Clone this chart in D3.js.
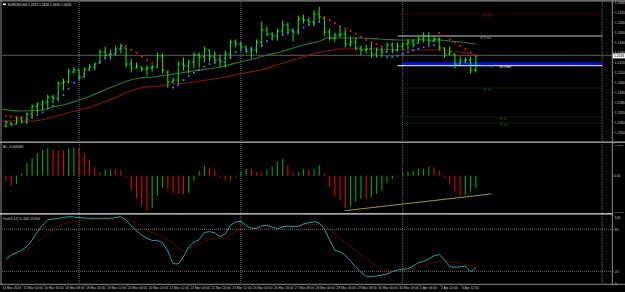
<!DOCTYPE html>
<html>
<head>
<meta charset="utf-8">
<script src="https://cdn.jsdelivr.net/npm/d3@7"></script>
<style>
html, body { margin: 0; padding: 0; background: #000; }
svg { display: block; font-family: "Liberation Sans", Arial, sans-serif; }
</style>
</head>
<body>
<svg id="chart" width="625" height="292"></svg>
<script>
// EURUSD H4 bars, 14 Mar - 3 Apr 2018
var opens = [1.2356,1.2359,1.2358,1.2364,1.2360,1.2368,1.2376,1.2378,1.2380,1.2385,
  1.2384,1.2399,1.2400,1.2410,1.2412,1.2405,1.2413,1.2415,1.2419,1.2430,
  1.2427,1.2428,1.2433,1.2434,1.2418,1.2414,1.2415,1.2413,1.2414,1.2415,
  1.2426,1.2410,1.2400,1.2402,1.2418,1.2416,1.2420,1.2427,1.2425,1.2432,
  1.2425,1.2422,1.2420,1.2428,1.2440,1.2438,1.2435,1.2431,1.2432,1.2440,
  1.2452,1.2448,1.2446,1.2451,1.2457,1.2452,1.2450,1.2463,1.2462,1.2460,
  1.2468,1.2464,1.2450,1.2444,1.2447,1.2448,1.2438,1.2440,1.2434,1.2432,
  1.2433,1.2428,1.2432,1.2430,1.2437,1.2432,1.2436,1.2438,1.2440,1.2439,
  1.2443,1.2446,1.2441,1.2443,1.2434,1.2428,1.2428,1.2418,1.2421,1.2422,1.2412];
var highs = [1.2361,1.2359,1.2365,1.2365,1.2369,1.2377,1.2379,1.2381,1.2387,1.2387,
  1.2400,1.2403,1.2413,1.2414,1.2412,1.2414,1.2417,1.2419,1.2432,1.2435,
  1.2432,1.2435,1.2438,1.2434,1.2423,1.2419,1.2415,1.2416,1.2417,1.2429,
  1.2428,1.2410,1.2404,1.2420,1.2424,1.2422,1.2429,1.2429,1.2435,1.2432,
  1.2430,1.2427,1.2431,1.2442,1.2442,1.2440,1.2436,1.2435,1.2442,1.2460,
  1.2455,1.2449,1.2453,1.2461,1.2459,1.2453,1.2466,1.2467,1.2464,1.2471,
  1.2475,1.2464,1.2453,1.2449,1.2456,1.2452,1.2445,1.2444,1.2436,1.2437,
  1.2439,1.2434,1.2434,1.2439,1.2439,1.2439,1.2439,1.2442,1.2442,1.2445,
  1.2449,1.2449,1.2445,1.2444,1.2434,1.2435,1.2428,1.2425,1.2424,1.2425,1.2426];
var lows = [1.2355,1.2356,1.2358,1.2359,1.2358,1.2364,1.2369,1.2372,1.2374,1.2379,
  1.2382,1.2392,1.2399,1.2409,1.2402,1.2405,1.2412,1.2412,1.2419,1.2424,
  1.2423,1.2427,1.2429,1.2415,1.2410,1.2414,1.2411,1.2407,1.2411,1.2415,
  1.2409,1.2395,1.2399,1.2399,1.2412,1.2409,1.2414,1.2415,1.2420,1.2421,
  1.2419,1.2415,1.2415,1.2423,1.2435,1.2433,1.2429,1.2424,1.2429,1.2437,
  1.2446,1.2442,1.2442,1.2448,1.2448,1.2441,1.2448,1.2459,1.2457,1.2456,
  1.2461,1.2447,1.2442,1.2441,1.2445,1.2435,1.2436,1.2432,1.2427,1.2429,
  1.2425,1.2425,1.2425,1.2430,1.2429,1.2431,1.2432,1.2433,1.2435,1.2439,
  1.2440,1.2437,1.2440,1.2432,1.2425,1.2427,1.2414,1.2418,1.2419,1.2409,1.2410];
var closes = [1.2360,1.2358,1.2364,1.2360,1.2368,1.2376,1.2378,1.2380,1.2385,1.2384,
  1.2399,1.2400,1.2410,1.2412,1.2405,1.2413,1.2415,1.2418,1.2430,1.2427,
  1.2428,1.2433,1.2436,1.2418,1.2414,1.2416,1.2413,1.2414,1.2415,1.2426,
  1.2412,1.2400,1.2402,1.2418,1.2416,1.2420,1.2427,1.2425,1.2433,1.2425,
  1.2422,1.2420,1.2428,1.2440,1.2438,1.2435,1.2431,1.2432,1.2440,1.2452,
  1.2448,1.2446,1.2451,1.2457,1.2452,1.2450,1.2463,1.2462,1.2460,1.2468,
  1.2465,1.2450,1.2444,1.2447,1.2448,1.2438,1.2440,1.2434,1.2432,1.2433,
  1.2428,1.2432,1.2430,1.2437,1.2432,1.2436,1.2438,1.2440,1.2437,1.2443,
  1.2446,1.2441,1.2443,1.2434,1.2428,1.2430,1.2418,1.2421,1.2422,1.2412,1.2426];

// moving averages, sampled along the lines: bar index / price
var maFastBars = [-0.8,2.7,7.1,9,11.7,14,16.7,19.3,21.3,23.2,25.7,28.2,30.8,33.3,35.8,37.2,41,44.8,47.3,50,52.5,55,57.7,60.2,61.5,64,67.8,71.6,75.5,83.1,85,87,90];
var maFastVals = [1.2373,1.2371,1.2372,1.2375,1.2378,1.2382,1.2387,1.2393,1.2397,1.2401,1.2404,1.2405,1.2407,1.2409,1.2411,1.2412,1.2415,1.2420,1.2423,1.2427,1.2430,1.2434,1.2438,1.2441,1.2444,1.2444,1.2444,1.2443,1.2442,1.2442,1.2441,1.2440,1.2438];
var maSlowBars = [-0.8,5.2,8.4,11.7,14,16.7,19.3,21.3,23.2,25.7,29.5,32,34.7,37.2,41,44.8,48.7,52.5,56.3,58.8,61.5,64,67.8,71.6,75.5,83.1,87,90];
var maSlowVals = [1.2361,1.2361,1.2364,1.2369,1.2372,1.2376,1.2381,1.2385,1.2390,1.2394,1.2396,1.2398,1.2399,1.2401,1.2404,1.2408,1.2412,1.2418,1.2424,1.2428,1.2431,1.2433,1.2433,1.2433,1.2432,1.2432,1.2430,1.2427];

// parabolic SAR
var sar = [1.2366,1.23655,1.23655,1.2365,1.2363,1.23647,1.2367,1.23697,1.23737,1.23763,
  1.2382,1.2387,1.23933,1.23993,1.24037,1.2408,1.2412,1.24153,1.24203,1.24237,
  1.2427,1.24303,1.24337,1.2436,1.2432,1.24293,1.24253,1.2422,1.24193,1.2418,
  1.24153,1.2411,1.23945,1.2397,1.2402,1.2406,1.24093,1.2412,1.24153,1.2418,
  1.24193,1.2422,1.24235,1.2425,1.2430,1.24317,1.24327,1.24335,1.24343,1.2436,
  1.2441,1.24435,1.24455,1.2447,1.2449,1.24505,1.2452,1.24545,1.2457,1.24585,
  1.2460,1.2465,1.2462,1.2459,1.2456,1.24535,1.2451,1.2448,1.2445,1.2442,
  1.2440,1.2438,1.24355,1.24247,1.2425,1.2426,1.2428,1.24297,1.24317,1.24333,
  1.24347,1.24357,1.24367,1.2449,1.2446,1.24427,1.24397,1.2436,1.24327,1.24297,1.24265];
var sarAboveRanges = [[0, 3], [23, 31], [61, 72], [83, 90]];

// pivot levels
var pivotNames = ["W R1", "W Pivot", "M Pivot", "D Pivot", "W S1", "M S1", "W S2"];
var pivotValues = [1.2468, 1.2446, 1.2418, 1.24163, 1.2394, 1.2365, 1.2359];
var pivotFrom = [75.5, 75, 76, 75, 75.5, 75.5, 75.5];
var pivotLabelBar = [91.4, 90.8, 94.6, 91.4, 91.4, 94.6, 94.6];
var lastPrice = 1.2426;

// Accelerator oscillator
var ac = [-0.00020,-0.00040,-0.00033,0.00010,0.00050,0.00070,0.00090,0.00103,0.00110,0.00106,
  0.00103,0.00100,0.00110,0.00114,0.00112,0.00090,0.00063,0.00034,0.00016,0.00023,
  0.00026,0.00025,0.00022,-0.00006,-0.00057,-0.00090,-0.00121,-0.00140,-0.00129,-0.00081,
  -0.00050,-0.00054,-0.00070,-0.00073,-0.00074,-0.00068,-0.00020,0.00019,0.00040,0.00033,
  0.00020,-0.00006,-0.00017,-0.00021,-0.00004,0.00016,0.00027,0.00026,0.00014,0.00012,
  0.00023,0.00036,0.00056,0.00067,0.00043,0.00010,0.00014,0.00027,0.00023,0.00027,
  0.00043,0.00010,-0.00044,-0.00081,-0.00097,-0.00128,-0.00124,-0.00104,-0.00093,-0.00095,
  -0.00086,-0.00073,-0.00060,-0.00028,-0.00013,-0.00004,0.00011,0.00016,0.00020,0.00027,
  0.00028,0.00036,0.00034,0.00020,-0.00008,-0.00034,-0.00064,-0.00081,-0.00077,-0.00064,-0.00048];
var acTrendBars = [64.9, 93.0];
var acTrendVals = [-0.00140, -0.00073];

// Stochastic (5,3,3)
var stochMain = [37.1,43.3,46.6,50.4,55.4,64.7,76.1,86.1,93.6,94.7,
  95.4,96.9,98,97.6,96.6,96.1,95.7,95.7,95.7,95.7,
  95.7,96.9,98,93.3,84.7,77.6,71.9,67.1,64,64.3,
  60.4,49,31.1,30.4,40.9,54.7,61.1,65.4,75.4,76.6,
  75.1,69.7,73.3,86.1,90.4,91.4,85.4,81.4,81.4,85.1,
  85.7,83.3,80.4,84,84.3,84,84,87.6,89.3,90.9,
  89,80.4,64.7,50,48,43.3,34.7,26.1,19,12.6,
  12.3,13.3,14.7,16.1,19.7,21.9,22.9,23.6,27.6,32.6,
  34.3,37.6,42.3,44,36.1,26.6,25.7,26.4,27.6,19,25.4];
var stochSignal = [41.6,42.9,44.3,47.6,50.4,56.1,62.6,67.6,74.7,81.1,
  84.7,87.6,89,90.7,92.3,93.3,94,94.3,94.3,94.3,
  94.3,94.3,94.3,93.3,91.9,88.3,84,79,75.4,71.9,
  69,65.4,60,53.3,49.4,52.6,56.1,59.7,63.3,65.4,
  65.9,66.6,67.1,71.9,76.9,79.4,81.9,82.6,82.9,83.2,
  83.2,83.3,83.5,83.6,83.6,83.6,84,85.4,86.4,87.3,
  86.9,84.7,79,73.3,67.6,61.1,54.7,49,43.3,37.6,
  31.9,27.6,24,21.9,20.4,19.7,19.7,21.4,24,26.1,
  28,30.4,32.9,34.7,34.7,33.7,32.6,31.1,29.7,28.3,24.9];
var stochLevels = [80, 20];

// time axis
var timeBars = [0,4,8,12,16,20,24,28,32,36,40,44,48,52,56,60,64,68,72,76,80,84,88];
var timeLabels = ["14 Mar 2018","15 Mar 00:00","15 Mar 16:00","16 Mar 08:00","18 Mar 20:00",
  "19 Mar 12:00","20 Mar 04:00","20 Mar 20:00","21 Mar 12:00","22 Mar 04:00","22 Mar 20:00",
  "23 Mar 12:00","26 Mar 00:00","26 Mar 16:00","27 Mar 08:00","28 Mar 00:00","28 Mar 16:00",
  "29 Mar 08:00","30 Mar 00:00","30 Mar 16:00","2 Apr 04:00","2 Apr 20:00","3 Apr 12:00"];
var separatorBars = [14, 45, 76, 114.2];

var svg = d3.select("#chart");
var bars = d3.range(closes.length);
var fs = 3.3;

var x = d3.scaleLinear().domain([-0.766, 116.09]).range([2, 612]);
var yMain = d3.scaleLinear().domain([1.2341, 1.2480]).range([141, 2]);
var yAc = d3.scaleLinear().domain([-0.001492, 0.001308]).range([213, 143]);
var ySto = d3.scaleLinear().domain([0, 100]).range([285.3, 215.3]);

svg.append("rect").attr("width", 625).attr("height", 292).attr("fill", "#000");

// clips for the three windows
var defs = svg.append("defs");
[["clipMain", 2, 141], ["clipAc", 143, 213], ["clipSto", 214.5, 284]].forEach(function (c) {
    defs.append("clipPath").attr("id", c[0]).append("rect")
        .attr("x", 2).attr("y", c[1]).attr("width", 610).attr("height", c[2] - c[1]);
});

// period separators
svg.append("g").selectAll("line").data(separatorBars).enter().append("line")
    .attr("x1", d => x(d)).attr("x2", d => x(d))
    .attr("y1", 2).attr("y2", 284)
    .attr("stroke", "#8a8a8a").attr("stroke-width", 0.8).attr("stroke-dasharray", "1,1");

// ---------- main window ----------
var main = svg.append("g").attr("clip-path", "url(#clipMain)");

// bid line
main.append("line").attr("x1", 2).attr("x2", 612)
    .attr("y1", yMain(lastPrice) - 0.7).attr("y2", yMain(lastPrice) - 0.7)
    .attr("stroke", "#707070").attr("stroke-width", 0.8);

var pivotStyle = {
    "W R1": { c: "#8b0000", w: 0.8, dash: "1,1", lc: "#8b1a1a", dy: 3 },
    "W Pivot": { c: "#c8c8c8", w: 1, dash: null, lc: "#9a9a9a", dy: 2.5 },
    "M Pivot": { c: "#0010ff", w: 3.6, dash: null, lc: "#e8e8e8", dy: 4 },
    "D Pivot": { c: "#ffffff", w: 1, dash: null, lc: "#2f6a2f", dy: 2.5 },
    "W S1": { c: "#0f5a0f", w: 0.8, dash: "1,1", lc: "#1f6b1f", dy: 2.5 },
    "M S1": { c: "#0f5a0f", w: 0.8, dash: "1,1", lc: "#1f6b1f", dy: 2.5 },
    "W S2": { c: "#0f5a0f", w: 0.8, dash: "1,1", lc: "#1f6b1f", dy: 2.5 }
};
pivotNames.forEach(function (name, k) {
    var st = pivotStyle[name];
    main.append("line")
        .attr("x1", x(pivotFrom[k])).attr("x2", x(separatorBars[3]))
        .attr("y1", yMain(pivotValues[k])).attr("y2", yMain(pivotValues[k]))
        .attr("stroke", st.c).attr("stroke-width", st.w)
        .attr("stroke-dasharray", st.dash);
    main.append("text")
        .attr("x", x(pivotLabelBar[k])).attr("y", yMain(pivotValues[k]) + st.dy)
        .attr("fill", st.lc).attr("font-size", fs).text(name);
});

// moving averages
var maLine = d3.line().x(d => x(d[0])).y(d => yMain(d[1])).curve(d3.curveMonotoneX);
main.append("path").datum(d3.zip(maSlowBars, maSlowVals))
    .attr("d", maLine).attr("fill", "none").attr("stroke", "#8b1010").attr("stroke-width", 1.2);
main.append("path").datum(d3.zip(maFastBars, maFastVals))
    .attr("d", maLine).attr("fill", "none").attr("stroke", "#2a7a2a").attr("stroke-width", 1.2);

// OHLC bars
var barG = main.append("g").attr("stroke", "#14ee14").attr("stroke-width", 1);
bars.forEach(function (i) {
    var cx = x(i);
    barG.append("line").attr("x1", cx).attr("x2", cx)
        .attr("y1", yMain(highs[i]) - 0.5).attr("y2", yMain(lows[i]) + 0.5);
    barG.append("line").attr("x1", cx - 1.8).attr("x2", cx)
        .attr("y1", yMain(opens[i])).attr("y2", yMain(opens[i]));
    barG.append("line").attr("x1", cx).attr("x2", cx + 1.8)
        .attr("y1", yMain(closes[i])).attr("y2", yMain(closes[i]));
});

// SAR dots
function sarAbove(i) {
    return sarAboveRanges.some(r => i >= r[0] && i <= r[1]);
}
main.append("g").selectAll("rect").data(bars).enter().append("rect")
    .attr("x", i => x(i) - 0.9).attr("y", i => yMain(sar[i]) - 0.9)
    .attr("width", 1.8).attr("height", 1.8)
    .attr("fill", i => sarAbove(i) ? "#ff1010" : "#4d72ff");

// title
svg.append("rect").attr("x", 3).attr("y", 3.5).attr("width", 3).attr("height", 1.6).attr("fill", "#fff");
svg.append("text").attr("x", 8).attr("y", 5.6).attr("font-size", fs).attr("fill", "#e0e0e0")
    .text("EURUSD,H4  " + [opens, highs, lows, closes].map(a => a[a.length - 1].toFixed(4)).join(" "));

// ---------- AC window ----------
var acG = svg.append("g").attr("clip-path", "url(#clipAc)");
acG.append("g").selectAll("line").data(bars).enter().append("line")
    .attr("x1", i => x(i)).attr("x2", i => x(i))
    .attr("y1", yAc(0)).attr("y2", i => yAc(ac[i]))
    .attr("stroke-width", 1.1)
    .attr("stroke", i => (i > 0 && ac[i] < ac[i - 1]) || (i === 0 && ac[0] < 0) ? "#e80000" : "#00a800");
acG.append("line")
    .attr("x1", x(acTrendBars[0])).attr("x2", x(acTrendBars[1]))
    .attr("y1", yAc(acTrendVals[0])).attr("y2", yAc(acTrendVals[1]))
    .attr("stroke", "#9c9c22").attr("stroke-width", 1);
svg.append("text").attr("x", 3).attr("y", 148).attr("font-size", fs).attr("fill", "#d0d0d0")
    .text("AC " + ac[ac.length - 1].toFixed(6));

// ---------- Stochastic window ----------
var stG = svg.append("g").attr("clip-path", "url(#clipSto)");
stG.append("g").selectAll("line").data(stochLevels).enter().append("line")
    .attr("x1", 2).attr("x2", 612).attr("y1", d => ySto(d)).attr("y2", d => ySto(d))
    .attr("stroke", "#8a8a8a").attr("stroke-width", 0.8).attr("stroke-dasharray", "1,1");
var stLine = d3.line().x(i => x(i));
stG.append("path").datum(bars)
    .attr("d", stLine.y(i => ySto(stochSignal[i])))
    .attr("fill", "none").attr("stroke", "#b01010").attr("stroke-width", 0.9)
    .attr("stroke-dasharray", "1,1");
stG.append("path").datum(bars)
    .attr("d", stLine.y(i => ySto(stochMain[i])))
    .attr("fill", "none").attr("stroke", "#22a39c").attr("stroke-width", 1);
svg.append("text").attr("x", 3).attr("y", 219.5).attr("font-size", fs * 0.85).attr("fill", "#d0d0d0")
    .text("Stoch(5,3,3) " + stochMain[stochMain.length - 1].toFixed(4) + " " + stochSignal[stochSignal.length - 1].toFixed(4));

// ---------- frame ----------
var frame = svg.append("g").attr("fill", "none");
frame.append("line").attr("x1", 0).attr("x2", 625).attr("y1", 0.8).attr("y2", 0.8).attr("stroke", "#8c8c8c").attr("stroke-width", 1.2);
frame.append("line").attr("x1", 1).attr("x2", 1).attr("y1", 0).attr("y2", 284).attr("stroke", "#8c8c8c").attr("stroke-width", 1);
frame.append("line").attr("x1", 0).attr("x2", 625).attr("y1", 142.3).attr("y2", 142.3).attr("stroke", "#9a9a9a").attr("stroke-width", 1.4);
frame.append("line").attr("x1", 0).attr("x2", 613).attr("y1", 213.8).attr("y2", 213.8).attr("stroke", "#e6e6e6").attr("stroke-width", 1.2);
frame.append("line").attr("x1", 0).attr("x2", 625).attr("y1", 284.3).attr("y2", 284.3).attr("stroke", "#8c8c8c").attr("stroke-width", 1);
frame.append("line").attr("x1", 612.3).attr("x2", 612.3).attr("y1", 0).attr("y2", 285).attr("stroke", "#8c8c8c").attr("stroke-width", 1);

// ---------- axes ----------
function styleAxis(g) {
    g.select(".domain").remove();
    g.selectAll(".tick line").attr("stroke", "#8c8c8c").attr("stroke-width", 0.6);
    g.selectAll(".tick text").attr("fill", "#c8c8c8").attr("font-size", fs)
        .attr("font-family", "Liberation Sans, Arial, sans-serif");
}
svg.append("g").attr("transform", "translate(612.3,0)")
    .call(d3.axisRight(yMain).tickValues(d3.range(1.2350, 1.24805, 0.001)).tickSize(1.5).tickPadding(1).tickFormat(d3.format(".4f")))
    .call(styleAxis);
svg.append("g").attr("transform", "translate(612.3,0)")
    .call(d3.axisRight(yAc).tickValues([0.001308, 0, -0.001492]).tickSize(1.2).tickPadding(0.4)
        .tickFormat(d => d === 0 ? "0.00" : d.toFixed(6)))
    .call(styleAxis)
    .call(g => g.selectAll(".tick text").attr("font-size", d => d === 0 ? fs : 2.2)
        .attr("dy", d => d > 0 ? "1.1em" : d < 0 ? "-0.2em" : "0.32em"));
svg.append("g").attr("transform", "translate(612.3,0)")
    .call(d3.axisRight(ySto).tickValues([100, 80, 20, 0]).tickSize(1.5).tickPadding(1))
    .call(styleAxis)
    .call(g => g.selectAll(".tick text").attr("dy", d => d === 100 ? "0.9em" : d === 0 ? "-0.2em" : "0.32em"));

// current price box
svg.append("rect").attr("x", 612.8).attr("y", yMain(lastPrice) - 2.6).attr("width", 12.2).attr("height", 5)
    .attr("fill", "#f4f4f4");
svg.append("text").attr("x", 614).attr("y", yMain(lastPrice) + 1.1).attr("font-size", fs).attr("fill", "#000")
    .text(lastPrice.toFixed(4));

// time axis
svg.append("g").attr("transform", "translate(0,284.3)")
    .call(d3.axisBottom(x).tickValues(timeBars).tickSize(1.6).tickPadding(0.6)
        .tickFormat((d, k) => timeLabels[k]))
    .call(styleAxis)
    .call(g => g.selectAll(".tick").attr("transform", d => "translate(" + (x(d) - 4) + ",0)"))
    .call(g => g.selectAll(".tick text").attr("text-anchor", "start").attr("x", 0.5));
</script>
</body>
</html>
